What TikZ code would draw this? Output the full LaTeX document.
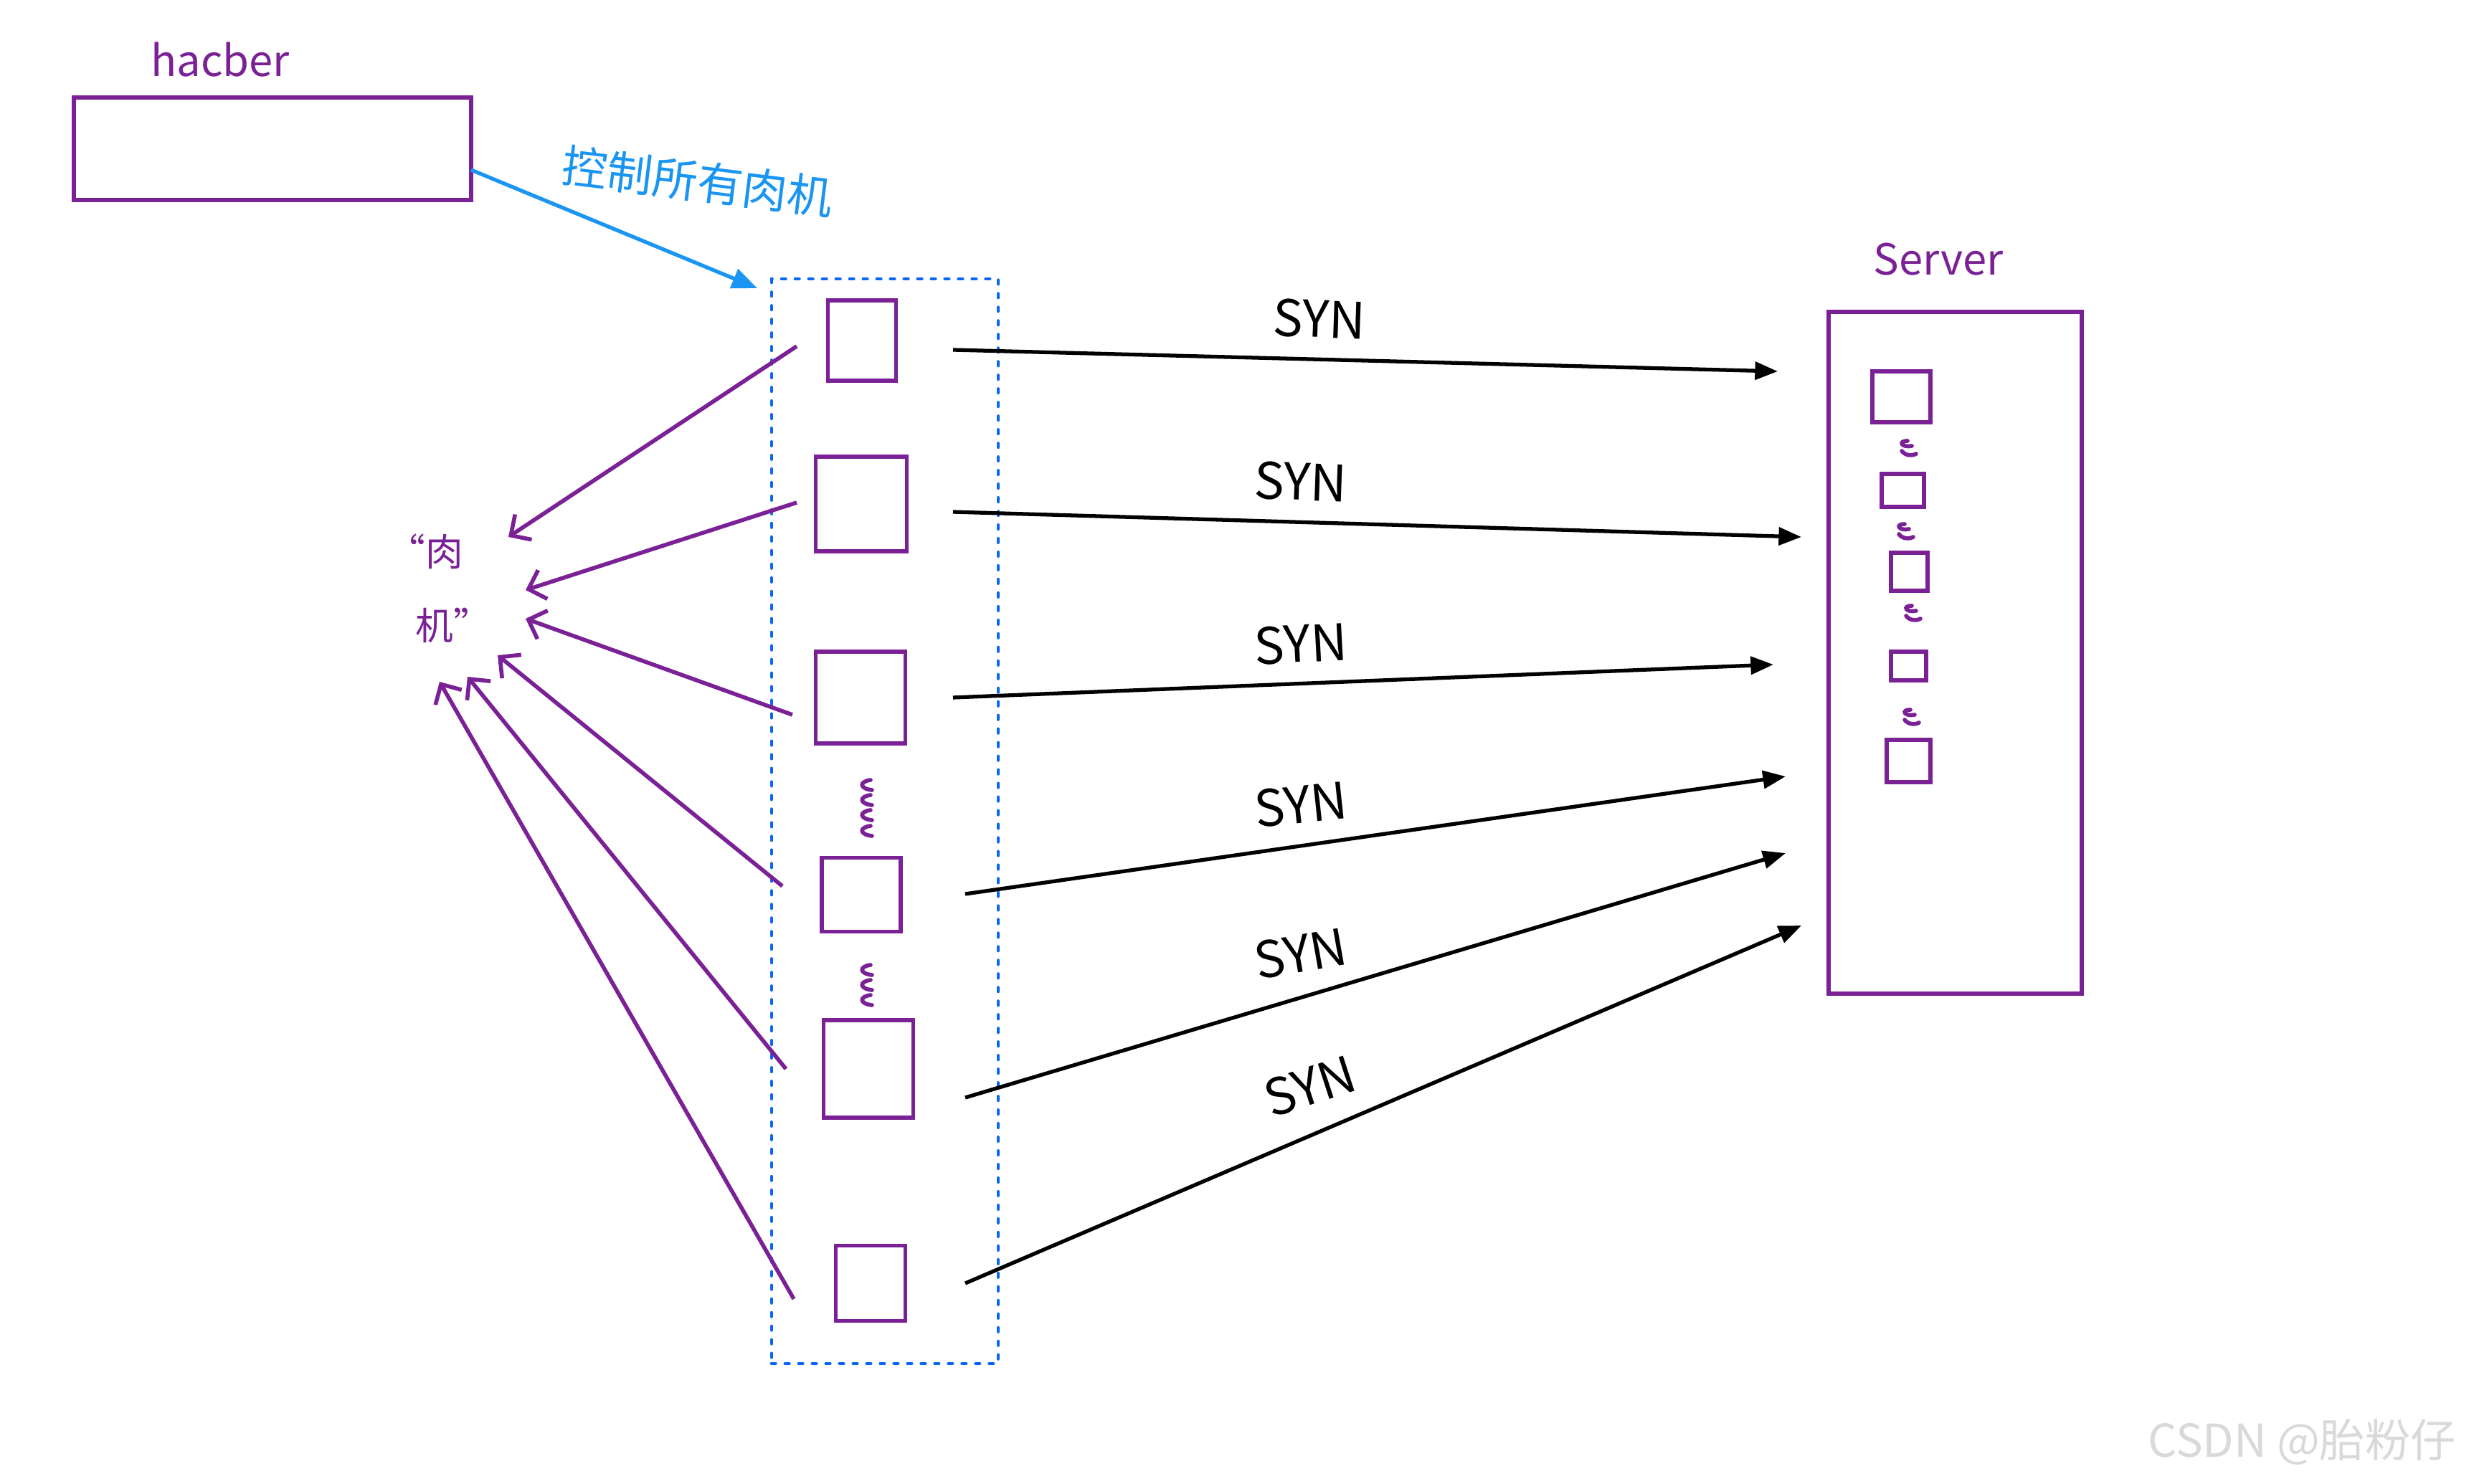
\documentclass[tikz,border=0pt]{standalone}
\usepackage{fontspec}
\setmainfont{Noto Sans CJK SC}
\usetikzlibrary{arrows.meta}
\definecolor{zombie}{HTML}{7B2196}
\definecolor{ctrlblue}{HTML}{1A95F2}
\definecolor{dashblue}{HTML}{0A66F5}

\begin{document}
\begin{tikzpicture}[x=1cm, y=1cm,
  box/.style={draw=zombie, line width=1.6pt, inner sep=0pt},
  syn/.style={-{Triangle[length=9pt,width=7pt]}, line width=1.5pt},
  grab/.style={-{Straight Barb[length=6pt,width=12pt]}, draw=zombie, line width=1.6pt},
  hand/.style={text=zombie, font=\fontsize{17}{20}\selectfont},
  synlabel/.style={font=\fontsize{20}{24}\selectfont, inner sep=1pt},
  wiggle/.style={draw=zombie, line width=1.6pt, line cap=round}]
  \useasboundingbox (0,0) rectangle (34.43,-20.70);

  % Nodes
  \node[box, minimum width=5.54cm, minimum height=1.43cm] (hacker) at (3.80,-2.075) {};
  \node[draw=dashblue, line width=1.4pt, line cap=round, dash pattern=on 1.5pt off 3.9pt,
        minimum width=3.16cm, minimum height=15.13cm] (bots) at (12.34,-11.455) {};
  \node[box, minimum width=0.95cm, minimum height=1.12cm] (c1) at (12.02,-4.75) {};
  \node[box, minimum width=1.27cm, minimum height=1.32cm] (c2) at (12.01,-7.03) {};
  \node[box, minimum width=1.25cm, minimum height=1.28cm] (c3) at (12.00,-9.73) {};
  \node[box, minimum width=1.10cm, minimum height=1.03cm] (c4) at (12.01,-12.48) {};
  \node[box, minimum width=1.25cm, minimum height=1.36cm] (c5) at (12.11,-14.91) {};
  \node[box, minimum width=0.97cm, minimum height=1.05cm] (c6) at (12.14,-17.90) {};

  \node[box, minimum width=3.53cm, minimum height=9.51cm] (server) at (27.265,-9.105) {};
  \node[box, minimum width=0.81cm, minimum height=0.71cm] (s1) at (26.515,-5.535) {};
  \node[box, minimum width=0.59cm, minimum height=0.46cm] (s2) at (26.535,-6.84) {};
  \node[box, minimum width=0.51cm, minimum height=0.53cm] (s3) at (26.625,-7.975) {};
  \node[box, minimum width=0.49cm, minimum height=0.40cm] (s4) at (26.615,-9.29) {};
  \node[box, minimum width=0.61cm, minimum height=0.59cm] (s5) at (26.615,-10.615) {};

  % Labels
  \node[hand] (hackerlabel) at (3.07,-0.83) {hacber};
  \node[hand] (serverlabel) at (27.03,-3.62) {Server};
  \node[text=ctrlblue, font=\fontsize{18}{22}\selectfont, rotate=-7] (ctrl) at (9.73,-2.53) {控制所有肉机};
  \node[text=zombie, font=\fontsize{15}{18}\selectfont] (zl1) at (5.93,-7.69) {“肉};
  \node[text=zombie, font=\fontsize{15}{18}\selectfont] (zl2) at (6.32,-8.72) {机”};
  \node[text=gray!30, font=\fontsize{18}{22}\selectfont] (mark) at (32.10,-20.11) {CSDN @胎粉仔};

  % Ends
  \coordinate (ht) at (6.57,-2.37);  \coordinate (hh) at (10.56,-4.02);
  \coordinate (t1) at (13.29,-4.88); \coordinate (h1) at (24.79,-5.18);
  \coordinate (t2) at (13.29,-7.14); \coordinate (h2) at (25.12,-7.49);
  \coordinate (t3) at (13.29,-9.73); \coordinate (h3) at (24.73,-9.27);
  \coordinate (t4) at (13.46,-12.47); \coordinate (h4) at (24.90,-10.83);
  \coordinate (t5) at (13.46,-15.31); \coordinate (h5) at (24.90,-11.90);
  \coordinate (t6) at (13.46,-17.90); \coordinate (h6) at (25.12,-12.91);
  \coordinate (p1) at (11.11,-4.83);  \coordinate (q1) at (7.09,-7.49);
  \coordinate (p2) at (11.11,-7.01);  \coordinate (q2) at (7.33,-8.23);
  \coordinate (p3) at (11.05,-9.97);  \coordinate (q3) at (7.33,-8.63);
  \coordinate (p4) at (10.91,-12.36); \coordinate (q4) at (6.94,-9.14);
  \coordinate (p5) at (10.96,-14.91); \coordinate (q5) at (6.52,-9.44);
  \coordinate (p6) at (11.07,-18.12); \coordinate (q6) at (6.13,-9.51);

  % Edges
  \draw[-{Triangle[length=10pt,width=8pt]}, draw=ctrlblue, line width=1.5pt] (ht) -- (hh);
  \foreach \i in {1,...,6}
    \draw[syn] (t\i) -- (h\i);
  \foreach \i in {1,...,6}
    \draw[grab] (p\i) -- (q\i);

  % SYN labels
  \foreach \i/\x/\y/\r in {1/18.40/4.45/-2, 2/18.14/6.72/-2, 3/18.14/8.98/3,
                          4/18.14/11.22/6, 5/18.14/13.30/10, 6/18.27/15.15/18}
    \node[synlabel, rotate=\r] (syn\i) at (\x,-\y) {SYN};

  % Wiggles
  \foreach \y in {10.88,11.09,11.30,11.52,13.46,13.67,13.88}
    \draw[wiggle] (12.14,-\y) .. controls (11.98,-\y-0.02) and (11.98,-\y-0.12) .. (12.16,-\y-0.14);
  \foreach \x/\y in {26.60/6.15,26.56/7.31,26.66/8.45,26.64/9.90}
    \draw[wiggle] (\x,-\y) .. controls (\x-0.14,-\y) and (\x-0.08,-\y-0.10) .. (\x+0.06,-\y-0.07)
                  (\x-0.08,-\y-0.14) .. controls (\x-0.03,-\y-0.21) and (\x+0.07,-\y-0.21) .. (\x+0.12,-\y-0.18);
\end{tikzpicture}
\end{document}
